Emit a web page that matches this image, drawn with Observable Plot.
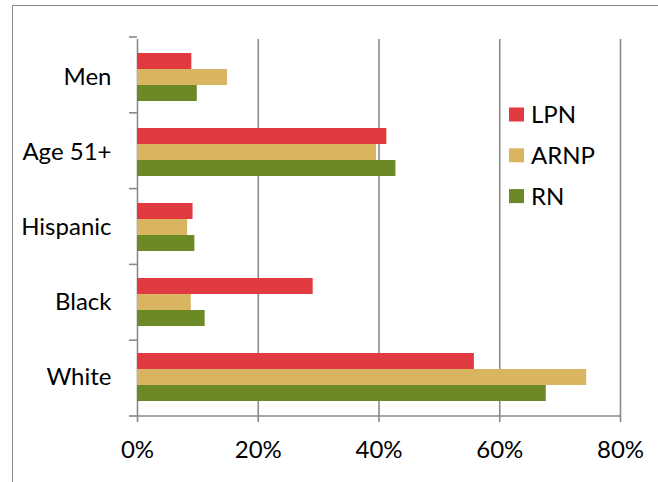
<!DOCTYPE html>
<html><head><meta charset="utf-8">
<script src="https://cdn.jsdelivr.net/npm/d3@7"></script>
<script src="https://cdn.jsdelivr.net/npm/@observablehq/plot@0.6"></script>
<style>
html,body{margin:0;padding:0;background:#fff;}
#wrap{position:relative;width:658px;height:482px;overflow:hidden;background:#fff;}
#border{position:absolute;left:12px;top:5px;width:700px;height:600px;border:1.5px solid #8a8a8a;box-sizing:border-box;}
#chart{position:absolute;left:0;top:0;}
</style></head><body><div id="wrap"><div id="border"></div><div id="chart"></div></div>
<script>
const categories = ["Men", "Age 51+", "Hispanic", "Black", "White"];
const series = ["LPN", "ARNP", "RN"];
const colors = ["#E23A41", "#D9B562", "#6B8924"];
const LPN = [9.0, 41.3, 9.2, 29.1, 55.8];
const ARNP = [14.9, 39.6, 8.3, 8.9, 74.4];
const RN = [9.9, 42.8, 9.5, 11.2, 67.7];
const xTicks = [0, 20, 40, 60, 80];

const valuesBySeries = {LPN, ARNP, RN};
const data = categories.flatMap((c, i) => series.map(s => ({category: c, series: s, value: valuesBySeries[s][i] / 100})));

const grey = "#8a8a8a";
const font = "Lato, 'Open Sans', sans-serif";
const tickVals = xTicks.map(d => d / 100);

const plot = Plot.plot({
  width: 658, height: 482,
  marginLeft: 137, marginRight: 38, marginTop: 37, marginBottom: 66,
  style: {fontFamily: font, fontSize: "24px", color: "#000", background: "transparent", overflow: "visible"},
  x: {domain: [0, 0.8], label: null},
  fy: {domain: categories, padding: 0, label: null},
  y: {domain: series, paddingInner: 0, paddingOuter: 0.8, axis: null},
  color: {domain: series, range: colors},
  marks: [
    Plot.gridX(tickVals.filter(d => d > 0), {stroke: grey, strokeOpacity: 1, strokeWidth: 1.6}),
    Plot.ruleX([0], {stroke: grey, strokeWidth: 1.6}),
    Plot.barX(data, {fy: "category", y: "series", x: "value", fill: "series"}),
    Plot.axisX(tickVals, {tickSize: 8, tickPadding: 18, stroke: grey, strokeWidth: 1.6, strokeOpacity: 1, tickFormat: d3.format(".0%"), fill: "#000", fontSize: 24, label: null}),
    Plot.axisFy({anchor: "left", tickSize: 0, tickPadding: 26, label: null, fill: "#000", fontSize: 24})
  ]
});
document.getElementById("chart").appendChild(plot);

// Excel-style axis lines and between-category ticks, from the plot's own scales
const X = plot.scale("x");
const FY = plot.scale("fy");
const xs = X.apply ? (v => X.apply(v)) : d3.scaleLinear(X.domain, X.range);
const fyBand = d3.scaleBand(FY.domain, FY.range).paddingInner(FY.paddingInner || 0).paddingOuter(FY.paddingOuter || 0);
const svg = d3.select(plot);
const g = svg.append("g").attr("stroke", grey).attr("stroke-width", 1.6);
const x0 = xs(0), x1 = xs(0.8);
const bounds = FY.domain.map(c => fyBand(c)).concat([fyBand(FY.domain[FY.domain.length - 1]) + fyBand.bandwidth()]);
bounds.forEach(y => g.append("line").attr("x1", x0 - 8).attr("x2", x0).attr("y1", y).attr("y2", y));
const yb = bounds[bounds.length - 1];
g.append("line").attr("x1", x0).attr("x2", x1).attr("y1", yb).attr("y2", yb);

// Legend
const C = plot.scale("color");
const leg = svg.append("g").attr("font-family", font).attr("font-size", 24).attr("text-anchor", "start");
series.forEach((s, i) => {
  const cy = 114.5 + i * 40.8;
  leg.append("rect").attr("x", 509).attr("y", cy - 7).attr("width", 15).attr("height", 14).attr("fill", C.apply ? C.apply(s) : colors[i]);
  leg.append("text").attr("x", 531).attr("y", cy).attr("dy", "0.35em").attr("fill", "#000").text(s);
});
</script></body></html>
